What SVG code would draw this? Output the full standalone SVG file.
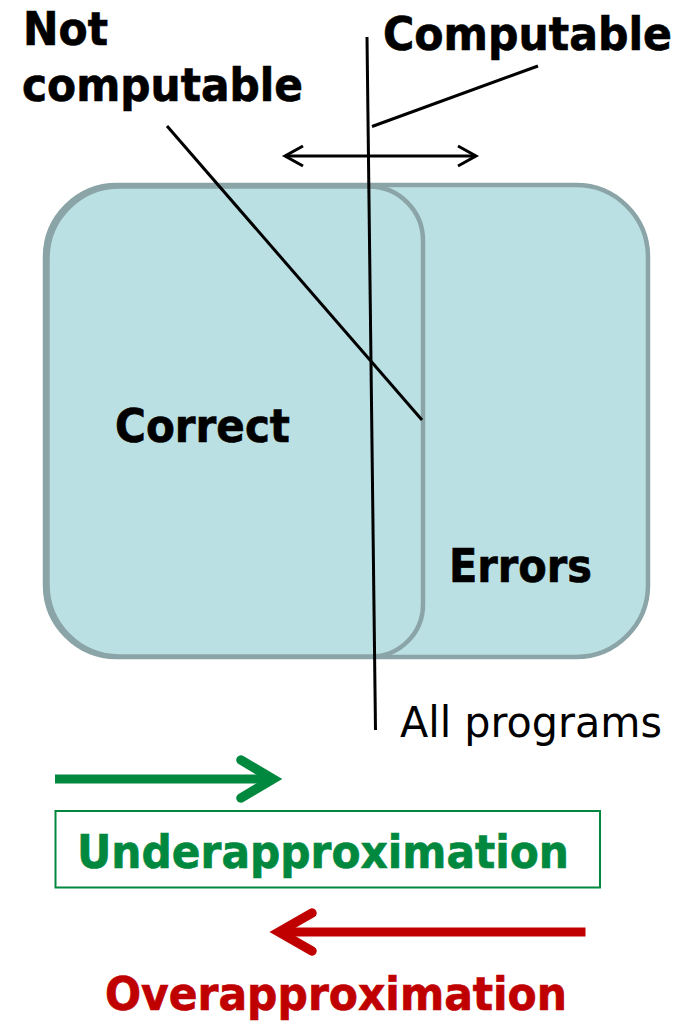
<svg xmlns="http://www.w3.org/2000/svg" width="685" height="1021" viewBox="0 0 685 1021">
<style>
.set{fill:#bbe0e3;stroke:#8aa4a7;stroke-width:4.5}
.b{font-family:"DejaVu Sans","Liberation Sans",sans-serif;font-weight:bold;font-size:46px;fill:#000;stroke:#000;stroke-width:0.7}
.n{font-family:"DejaVu Sans","Liberation Sans",sans-serif;font-weight:normal;font-size:42px;fill:#000}
.ln{stroke:#000;stroke-width:3;fill:none}
.green{fill:#00893e;stroke:#00893e}
.red{fill:#c00000;stroke:#c00000}
</style>
<rect width="685" height="1021" fill="#fff"/>
<g id="all-programs">
<rect class="set" x="45" y="185" width="603" height="472" rx="72" ry="72"/>
</g>
<g id="correct">
<path class="set" d="M119.5,186.5 H369 A54,54 0 0 1 423,240.5 V604.5 A52,52 0 0 1 371,656.5 H119.5 A72,72 0 0 1 47.5,584.5 V258.5 A72,72 0 0 1 119.5,186.5 Z"/>
<text class="b" x="115" y="442" textLength="175" lengthAdjust="spacingAndGlyphs">Correct</text>
</g>
<g id="errors">
<text class="b" x="449" y="582" textLength="143" lengthAdjust="spacingAndGlyphs">Errors</text>
</g>
<g id="label-not-computable">
<text class="b" x="23" y="45" textLength="85" lengthAdjust="spacingAndGlyphs">Not</text>
<text class="b" x="22" y="101" textLength="281" lengthAdjust="spacingAndGlyphs">computable</text>
</g>
<g id="label-computable">
<text class="b" x="383" y="50" textLength="289" lengthAdjust="spacingAndGlyphs">Computable</text>
</g>
<g id="label-all-programs">
<text class="n" x="400" y="737" textLength="262" lengthAdjust="spacingAndGlyphs">All programs</text>
</g>
<g id="connectors">
<line class="ln" x1="367" y1="37" x2="375.5" y2="730"/>
<line class="ln" x1="372" y1="126.5" x2="538" y2="66"/>
<line class="ln" x1="167" y1="126" x2="422" y2="420"/>
<line class="ln" x1="285" y1="156" x2="476" y2="156"/>
<polyline class="ln" stroke-width="3.5" points="303,146 285,156 303,166"/>
<polyline class="ln" stroke-width="3.5" points="458,146 476,156 458,166"/>
<line x1="55" y1="779" x2="270" y2="779" stroke="#00893e" stroke-width="9"/>
<polyline points="241,760 273,779 241,798" fill="none" stroke="#00893e" stroke-width="9.5" stroke-linecap="round" stroke-linejoin="miter"/>
<line x1="585.5" y1="932" x2="282" y2="932" stroke="#c00000" stroke-width="9"/>
<polyline points="312,913 279,932 312,951" fill="none" stroke="#c00000" stroke-width="9.5" stroke-linecap="round" stroke-linejoin="miter"/>
</g>
<g id="underapproximation">
<rect x="55.5" y="811" width="544.5" height="76.5" fill="none" stroke="#00893e" stroke-width="2"/>
<text class="b green" x="77" y="868" textLength="492" lengthAdjust="spacingAndGlyphs">Underapproximation</text>
</g>
<g id="overapproximation">
<text class="b red" x="105" y="1010" textLength="462" lengthAdjust="spacingAndGlyphs">Overapproximation</text>
</g>
</svg>
